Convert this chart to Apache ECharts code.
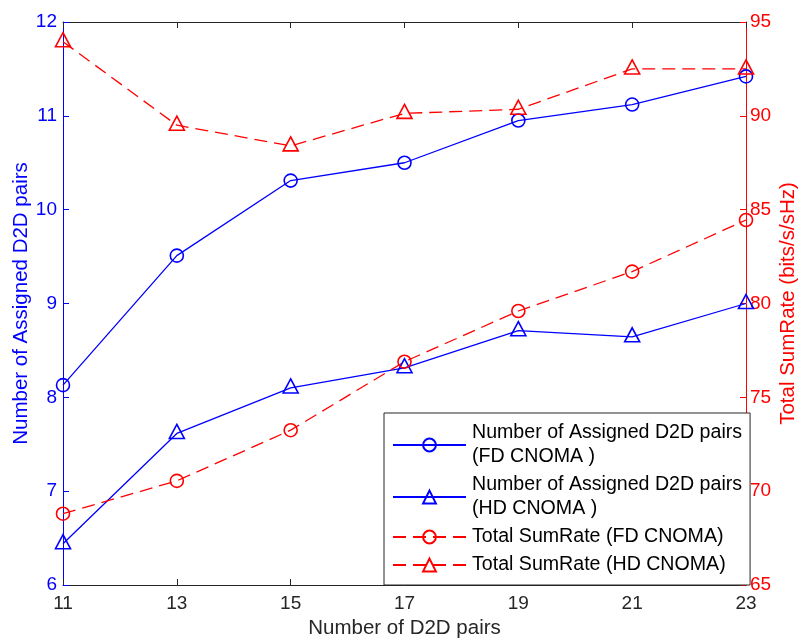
<!DOCTYPE html>
<html>
<head>
<meta charset="utf-8">
<script src="https://cdn.jsdelivr.net/npm/echarts@6/dist/echarts.min.js"></script>
<style>
html,body{margin:0;padding:0;background:#fff;}
#chart{width:799px;height:642px;}
</style>
</head>
<body>
<div id="chart"></div>
<script>
const xValues = [11, 13, 15, 17, 19, 21, 23];
const fdPairs = [8.13, 9.51, 10.31, 10.5, 10.95, 11.12, 11.42];
const hdPairs = [6.44, 7.615, 8.1, 8.315, 8.71, 8.645, 9.0];
const fdRate = [68.8, 70.55, 73.25, 76.9, 79.6, 81.7, 84.45];
const hdRate = [93.95, 89.5, 88.4, 90.13, 90.35, 92.5, 92.5];

const seriesNames = [
  'Number of Assigned D2D pairs (FD CNOMA )',
  'Number of Assigned D2D pairs (HD CNOMA )',
  'Total SumRate (FD CNOMA)',
  'Total SumRate (HD CNOMA)'
];
const legendLabels = [
  'Number of Assigned D2D pairs\n(FD CNOMA )',
  'Number of Assigned D2D pairs\n(HD CNOMA )',
  'Total SumRate (FD CNOMA)',
  'Total SumRate (HD CNOMA)'
];

const BLUE = '#0000ff', RED = '#ff0000', DARK = '#262626';
const FONT = '"Liberation Sans", Arial, Helvetica, sans-serif';

function pairs(ys) { return xValues.map((x, i) => [x, ys[i]]); }

function mkSeries(name, data, yIdx, color, symbol, dashed) {
  return {
    name: name,
    type: 'line',
    yAxisIndex: yIdx,
    data: pairs(data),
    symbol: symbol,
    symbolSize: symbol === 'triangle' ? [15, 14] : 13,
    symbolOffset: symbol === 'triangle' ? [0, -2] : [0, 0],
    showAllSymbol: true,
    lineStyle: { color: color, width: 1.3, type: dashed ? [13, 7] : 'solid' },
    itemStyle: { color: 'rgba(0,0,0,0)', borderColor: color, borderWidth: 1.6 },
    emphasis: { disabled: true },
    animation: false,
    z: 3
  };
}

const chart = echarts.init(document.getElementById('chart'), null, { renderer: 'canvas' });
chart.setOption({
  backgroundColor: '#fff',
  animation: false,
  textStyle: { fontFamily: FONT },
  grid: { left: 63, right: 53, top: 22, bottom: 57, containLabel: false, outerBoundsMode: 'none' },
  xAxis: [
    {
      type: 'value', min: 11, max: 23, interval: 2,
      name: 'Number of D2D pairs', nameLocation: 'middle', nameGap: 33,
      nameMoveOverlap: false,
      nameTextStyle: { color: DARK, fontSize: 20.5, fontFamily: FONT },
      axisLine: { show: true, lineStyle: { color: DARK, width: 1 } },
      axisTick: { show: true, inside: true, length: 6, lineStyle: { color: DARK } },
      axisLabel: { color: DARK, fontSize: 19, margin: 9, fontFamily: FONT },
      splitLine: { show: false }
    },
    {
      type: 'value', min: 11, max: 23, interval: 2, position: 'top',
      axisLine: { show: true, onZero: false, lineStyle: { color: DARK, width: 1 } },
      axisTick: { show: true, inside: true, length: 6, lineStyle: { color: DARK } },
      axisLabel: { show: false },
      splitLine: { show: false }
    }
  ],
  yAxis: [
    {
      type: 'value', min: 6, max: 12, interval: 1, position: 'left',
      name: 'Number of Assigned D2D pairs', nameLocation: 'middle', nameGap: 31,
      nameMoveOverlap: false,
      nameTextStyle: { color: BLUE, fontSize: 20.5, fontFamily: FONT },
      axisLine: { show: true, onZero: false, lineStyle: { color: BLUE, width: 1 } },
      axisTick: { show: true, inside: true, length: 6, lineStyle: { color: BLUE } },
      axisLabel: { color: BLUE, fontSize: 19, margin: 6, fontFamily: FONT },
      splitLine: { show: false }
    },
    {
      type: 'value', min: 65, max: 95, interval: 5, position: 'right',
      name: 'Total SumRate (bits/s/sHz)', nameLocation: 'middle', nameGap: 32,
      nameRotate: 90, nameMoveOverlap: false,
      nameTextStyle: { color: RED, fontSize: 20.5, fontFamily: FONT },
      axisLine: { show: true, onZero: false, lineStyle: { color: RED, width: 1 } },
      axisTick: { show: true, inside: true, length: 6, lineStyle: { color: RED } },
      axisLabel: { color: RED, fontSize: 19, margin: 4, fontFamily: FONT },
      splitLine: { show: false }
    }
  ],
  legend: {
    data: seriesNames,
    orient: 'vertical',
    left: 384, top: 413,
    padding: [8, 8, 8, 8],
    itemWidth: 73, itemHeight: 16, itemGap: 4,
    backgroundColor: '#fff',
    borderColor: DARK, borderWidth: 1,
    selectedMode: false,
    formatter: function (name) { return legendLabels[seriesNames.indexOf(name)]; },
    textStyle: { color: '#000', fontSize: 19.6, lineHeight: 24, fontFamily: FONT, padding: [0, 0, 0, 1] },
    z: 10
  },
  series: [
    mkSeries(seriesNames[0], fdPairs, 0, BLUE, 'circle', false),
    mkSeries(seriesNames[1], hdPairs, 0, BLUE, 'triangle', false),
    mkSeries(seriesNames[2], fdRate, 1, RED, 'circle', true),
    mkSeries(seriesNames[3], hdRate, 1, RED, 'triangle', true)
  ]
});
</script>
</body>
</html>
